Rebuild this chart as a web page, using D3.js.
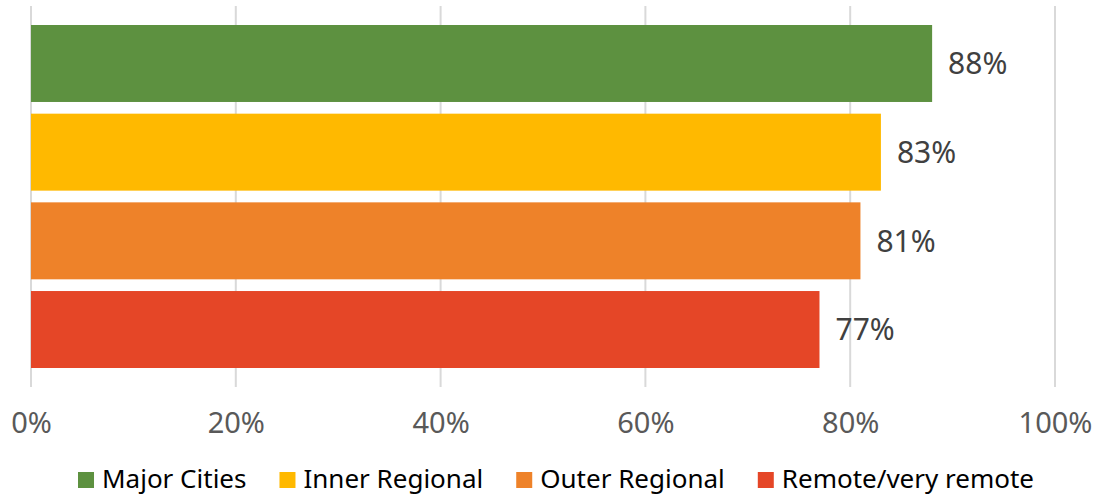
<!DOCTYPE html>
<html>
<head>
<meta charset="utf-8">
<script src="https://cdn.jsdelivr.net/npm/d3@7"></script>
<style>
  html, body { margin: 0; padding: 0; background: #fff; }
  svg { display: block; font-family: "Noto Sans", "DejaVu Sans", sans-serif; }
</style>
</head>
<body>
<svg id="chart" width="1104" height="498"></svg>
<script>
// Share of people, by remoteness area
const categories = ["Major Cities", "Inner Regional", "Outer Regional", "Remote/very remote"];
const values = [88, 83, 81, 77];
const colors = ["#5d9140", "#ffb900", "#ee8229", "#e54627"];
const tickValues = [0, 20, 40, 60, 80, 100];

const svg = d3.select("#chart");

const x = d3.scaleLinear().domain([0, 100]).range([31, 1055]);
const y = d3.scaleBand()
  .domain(categories)
  .range([25, 368])
  .paddingInner(0.132)
  .paddingOuter(0);

// vertical gridlines
svg.append("g")
  .selectAll("line")
  .data(tickValues)
  .join("line")
  .attr("x1", d => x(d)).attr("x2", d => x(d))
  .attr("y1", 6).attr("y2", 387)
  .attr("stroke", "#d9d9d9")
  .attr("stroke-width", 2);

// bars
svg.append("g")
  .selectAll("rect")
  .data(categories)
  .join("rect")
  .attr("x", x(0))
  .attr("y", d => y(d))
  .attr("width", (d, i) => x(values[i]) - x(0))
  .attr("height", y.bandwidth())
  .attr("fill", (d, i) => colors[i]);

// value labels
svg.append("g")
  .selectAll("text")
  .data(categories)
  .join("text")
  .attr("x", (d, i) => x(values[i]) + 16)
  .attr("y", d => y(d) + y.bandwidth() / 2)
  .attr("dy", "0.36em")
  .attr("font-size", 30)
  .attr("fill", "#404040")
  .text((d, i) => values[i] + "%");

// x axis labels
const axis = d3.axisBottom(x)
  .tickValues(tickValues)
  .tickFormat(d => d + "%")
  .tickSize(0)
  .tickPadding(0);
const ax = svg.append("g")
  .attr("transform", "translate(0,433)")
  .call(axis);
ax.select(".domain").remove();
ax.selectAll("text")
  .attr("dy", 0)
  .attr("font-size", 29)
  .attr("font-family", "\"Noto Sans\", \"DejaVu Sans\", sans-serif")
  .attr("fill", "#595959");

// legend
const legend = svg.append("g");
const items = legend.selectAll("g")
  .data(categories)
  .join("g");
items.append("rect")
  .attr("width", 16).attr("height", 16)
  .attr("y", 472)
  .attr("fill", (d, i) => colors[i]);
items.append("text")
  .attr("x", 24)
  .attr("y", 488)
  .attr("font-size", 26)
  .attr("fill", "#000")
  .text(d => d);

let widths = [];
items.each(function () {
  widths.push(24 + this.querySelector("text").getComputedTextLength());
});
const gap = 33;
const total = d3.sum(widths) + gap * (widths.length - 1);
let cx = 556 - total / 2;
items.attr("transform", (d, i) => {
  const t = `translate(${cx},0)`;
  cx += widths[i] + gap;
  return t;
});
</script>
</body>
</html>
